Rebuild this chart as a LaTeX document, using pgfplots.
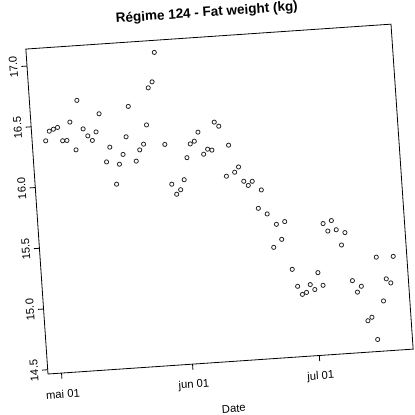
\documentclass[border=0pt]{standalone}
\usepackage{pgfplots}
\pgfplotsset{compat=1.18}
\usepackage{fontspec}
\setmainfont{Liberation Sans}
\pgfplotstableread{
d v
0 16.377
1 16.454
2 16.468
3 16.480
4 16.368
5 16.368
6 16.517
7 16.286
8 16.691
9 16.454
10 16.394
11 16.354
12 16.422
13 16.569
14 16.170
15 16.289
16 15.982
17 16.144
18 16.222
19 16.365
20 16.613
21 16.160
22 16.250
23 16.295
24 16.451
25 16.754
26 16.801
27 17.041
28 16.281
29 15.951
30 15.866
31 15.901
32 15.981
33 16.160
34 16.271
35 16.291
36 16.363
37 16.179
38 16.218
39 16.208
40 16.436
41 16.400
42 15.986
43 16.239
44 16.014
45 16.055
46 15.935
47 15.898
48 15.930
49 15.705
50 15.854
51 15.654
52 15.377
53 15.564
54 15.438
55 15.582
56 15.186
57 15.044
58 14.975
59 14.989
60 15.051
61 15.008
62 15.145
63 15.038
64 15.544
65 15.480
66 15.564
67 15.486
68 15.358
69 15.458
70 15.060
71 14.963
72 15.009
73 14.723
74 14.749
75 14.564
76 15.239
77 14.876
78 15.056
79 15.020
80 15.236
}\fatdata
\begin{document}
\begin{tikzpicture}
\begin{scope}[shift={(48pt,41pt)},rotate=3.9,transform shape]
\begin{axis}[
  at={(0,0)}, anchor=south west,
  scale only axis, width=366pt, height=325.7pt,
  xmin=-3.2, xmax=83.2, ymin=14.465, ymax=17.14,
  axis line style={line width=0.8pt},
  tick align=outside, tick pos=left,
  major tick length=5.6pt,
  tick style={line width=0.8pt, black},
  xtick={0,31,61}, xticklabels={mai 01,jun 01,jul 01},
  ytick={14.5,15,15.5,16,16.5,17},
  yticklabels={14.5,15.0,15.5,16.0,16.5,17.0},
  tick label style={font=\fontsize{11.25}{13}\selectfont},
  xticklabel style={anchor=center},
  yticklabel style={rotate=90, anchor=center},
  xticklabel shift=15.5pt,
  yticklabel shift=8pt,
  title={Régime 124 - Fat weight (kg)},
  title style={at={(axis description cs:0.5,1)}, anchor=center, yshift=17.5pt,
    font=\bfseries\fontsize{13.5}{16}\selectfont},
  xlabel={Date},
  xlabel style={at={(axis description cs:0.5,0)}, anchor=center, yshift=-47pt,
    font=\fontsize{11.25}{13}\selectfont},
]
\addplot[only marks, mark=o, mark size=2.1pt, mark options={line width=0.8pt, draw=black!85}] table[x=d, y=v] {\fatdata};
\end{axis}
\end{scope}
\pgfresetboundingbox
\path[use as bounding box] (0,0) rectangle (415pt,415pt);
\end{tikzpicture}
\end{document}
